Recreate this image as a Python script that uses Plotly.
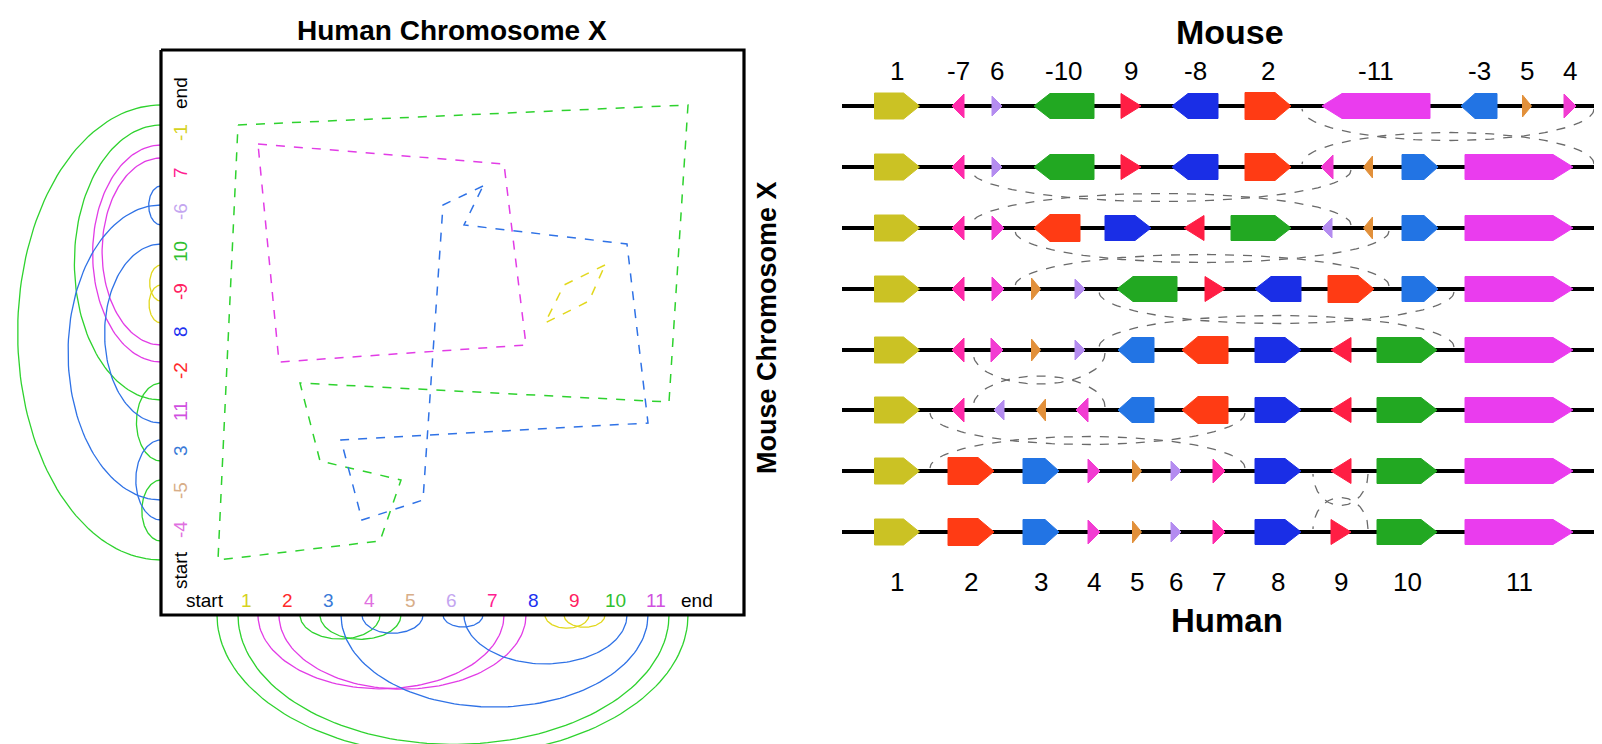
import numpy as np
import plotly.graph_objects as go

W, H = 1602, 744
FONT = "Liberation Sans, Arial, Helvetica, sans-serif"

# ---------------- left panel data ----------------
human_labels = ["start", "1", "2", "3", "4", "5", "6", "7", "8", "9", "10", "11", "end"]
human_label_x = [197, 238, 279, 320, 361, 402, 443, 484, 525, 566, 607, 648, 689]
mouse_labels = ["start", "-4", "-5", "3", "11", "-2", "8", "-9", "10", "-6", "7", "-1", "end"]
mouse_label_y = [562, 522, 483, 443, 403, 363, 324, 284, 244, 204, 165, 125, 85]

# breakpoint-graph cycles inside the box (vertex positions)
cycle_names = ["green", "magenta", "blue", "yellow"]
cycle_green_x = [230, 680, 661, 292, 312, 393, 372, 210]
cycle_green_y = [117, 97, 394, 375, 453, 472, 533, 552]
cycle_magenta_x = [250, 496, 518, 271]
cycle_magenta_y = [136, 156, 337, 354]
cycle_blue_x = [475, 435, 415, 354, 333, 640, 619, 456]
cycle_blue_y = [178, 197, 492, 512, 432, 415, 236, 217]
cycle_yellow_x = [597, 556, 537, 581]
cycle_yellow_y = [257, 277, 315, 293]

# arcs below the box (human adjacencies): endpoints on the bottom edge
bottom_arc_x1 = [209, 230, 292, 312, 250, 271, 333, 354, 435, 456, 537, 556]
bottom_arc_x2 = [680, 661, 372, 393, 496, 518, 640, 415, 475, 619, 581, 597]
bottom_arc_cycle = ["green", "green", "green", "green", "magenta", "magenta",
                    "blue", "blue", "blue", "blue", "yellow", "yellow"]
# arcs left of the box (mouse adjacencies): endpoints on the left edge
left_arc_y1 = [97, 117, 375, 472, 137, 150, 178, 197, 236, 432, 257, 277]
left_arc_y2 = [552, 392, 453, 533, 354, 337, 217, 492, 415, 512, 293, 315]
left_arc_cycle = ["green", "green", "green", "green", "magenta", "magenta",
                  "blue", "blue", "blue", "blue", "yellow", "yellow"]

# ---------------- right panel data ----------------
mouse_top_labels = ["1", "-7", "6", "-10", "9", "-8", "2", "-11", "-3", "5", "4"]
human_bottom_labels = ["1", "2", "3", "4", "5", "6", "7", "8", "9", "10", "11"]
row_y = [98, 159, 220, 281, 342, 402, 463, 524]
rows = [
    [1, -7, 6, -10, 9, -8, 2, -11, -3, 5, 4],
    [1, -7, 6, -10, 9, -8, 2, -4, -5, 3, 11],
    [1, -7, 4, -2, 8, -9, 10, -6, -5, 3, 11],
    [1, -7, 4, 5, 6, -10, 9, -8, 2, 3, 11],
    [1, -7, 4, 5, 6, -3, -2, 8, -9, 10, 11],
    [1, -7, -6, -5, -4, -3, -2, 8, -9, 10, 11],
    [1, 2, 3, 4, 5, 6, 7, 8, -9, 10, 11],
    [1, 2, 3, 4, 5, 6, 7, 8, 9, 10, 11],
]
row_x = [
    [889, 950, 989, 1056, 1123, 1187, 1260, 1368, 1471, 1519, 1562],
    [889, 950, 989, 1056, 1123, 1187, 1260, 1319, 1360, 1412, 1511],
    [889, 950, 990, 1049, 1120, 1186, 1253, 1319, 1360, 1412, 1511],
    [889, 950, 990, 1028, 1072, 1139, 1207, 1270, 1343, 1412, 1511],
    [889, 950, 989, 1028, 1072, 1128, 1197, 1270, 1333, 1399, 1511],
    [889, 950, 991, 1033, 1074, 1128, 1197, 1270, 1333, 1399, 1511],
    [889, 963, 1033, 1086, 1129, 1168, 1211, 1270, 1333, 1399, 1511],
    [889, 963, 1033, 1086, 1129, 1168, 1211, 1270, 1333, 1399, 1511],
]
reversal_left = [1294, 963, 1007, 1091, 965, 922, 1305]
reversal_right = [1586, 1343, 1381, 1446, 1097, 1237, 1360]

# ---------------- styles ----------------
gene_color = {1: "#cbc224", 2: "#ff3b14", 3: "#2274e4", 4: "#f23cd2", 5: "#e2903a",
              6: "#b48cf0", 7: "#ff2aaa", 8: "#1a2ee6", 9: "#ff1e44", 10: "#22a822",
              11: "#ea3cee"}
label_color = {1: "#d6d21e", 2: "#ff2a2a", 3: "#3a7ad8", 4: "#e070e0", 5: "#d8ae88",
               6: "#c4a6f0", 7: "#ff2090", 8: "#2030f0", 9: "#ff2060", 10: "#30c030",
               11: "#d050e0"}
cycle_color = {"green": "#2ed22e", "magenta": "#e23ce6", "blue": "#2f72e6", "yellow": "#e2d81e"}
gene_size = {1: (45, 26, 16), 2: (46, 27, 16), 3: (36, 25, 14), 4: (12, 24, 12),
             5: (9, 22, 9), 6: (10, 20, 10), 7: (12, 24, 12), 8: (46, 25, 16),
             9: (20, 25, 20), 10: (60, 25, 16), 11: (108, 25, 20)}

BOX_L, BOX_R, BOX_T, BOX_B = 153, 736, 42, 607
K_BOTTOM, K_LEFT = 0.6, 0.63

fig = go.Figure()
t = np.linspace(0, np.pi, 90)

cycles = {
    "green": (cycle_green_x, cycle_green_y),
    "magenta": (cycle_magenta_x, cycle_magenta_y),
    "blue": (cycle_blue_x, cycle_blue_y),
    "yellow": (cycle_yellow_x, cycle_yellow_y),
}

# arcs outside the box
for x1, x2, c in zip(bottom_arc_x1, bottom_arc_x2, bottom_arc_cycle):
    cx, hw = (x1 + x2) / 2, abs(x2 - x1) / 2
    fig.add_trace(go.Scatter(x=cx + hw * np.cos(t), y=BOX_B + K_BOTTOM * hw * np.sin(t),
                             mode="lines", line=dict(color=cycle_color[c], width=1.3),
                             hoverinfo="skip", showlegend=False))
for y1, y2, c in zip(left_arc_y1, left_arc_y2, left_arc_cycle):
    cy, hh = (y1 + y2) / 2, abs(y2 - y1) / 2
    fig.add_trace(go.Scatter(x=BOX_L - K_LEFT * hh * np.sin(t), y=cy + hh * np.cos(t),
                             mode="lines", line=dict(color=cycle_color[c], width=1.3),
                             hoverinfo="skip", showlegend=False))

# box
fig.add_trace(go.Scatter(x=[BOX_L, BOX_R, BOX_R, BOX_L, BOX_L],
                         y=[BOX_T, BOX_T, BOX_B, BOX_B, BOX_T],
                         mode="lines", fill="toself", fillcolor="white",
                         line=dict(color="black", width=3.2),
                         hoverinfo="skip", showlegend=False))

# cycles inside the box
for name in cycle_names:
    xs, ys = cycles[name]
    fig.add_trace(go.Scatter(x=list(xs) + [xs[0]], y=list(ys) + [ys[0]], mode="lines",
                             line=dict(color=cycle_color[name], width=1.5, dash="dash"),
                             hoverinfo="skip", showlegend=False))

# ---------------- right panel ----------------
for r in range(len(reversal_left)):
    xl, xr = reversal_left[r], reversal_right[r]
    cx, hw = (xl + xr) / 2, (xr - xl) / 2
    y1, y2 = row_y[r], row_y[r + 1]
    mid = (y1 + y2) / 2
    fig.add_trace(go.Scatter(x=cx + hw * np.cos(t), y=(y1 + 3) + (mid + 4 - y1 - 3) * np.sin(t),
                             mode="lines", line=dict(color="#6a6a6a", width=1.3, dash="dash"),
                             hoverinfo="skip", showlegend=False))
    fig.add_trace(go.Scatter(x=cx + hw * np.cos(t), y=(y2 - 3) - (y2 - 3 - (mid - 4)) * np.sin(t),
                             mode="lines", line=dict(color="#6a6a6a", width=1.3, dash="dash"),
                             hoverinfo="skip", showlegend=False))

for y in row_y:
    fig.add_trace(go.Scatter(x=[834, 1602], y=[y, y], mode="lines",
                             line=dict(color="black", width=4),
                             hoverinfo="skip", showlegend=False))

for r, genes in enumerate(rows):
    y = row_y[r]
    for g, cx in zip(genes, row_x[r]):
        a = abs(g)
        w, h, tip = gene_size[a]
        d = 1 if g > 0 else -1
        back = cx - d * w / 2
        front = cx + d * w / 2
        neck = front - d * tip
        px = [back, neck, front, neck, back, back]
        py = [y - h / 2, y - h / 2, y, y + h / 2, y + h / 2, y - h / 2]
        fig.add_trace(go.Scatter(x=px, y=py, mode="lines", fill="toself",
                                 fillcolor=gene_color[a],
                                 line=dict(color=gene_color[a], width=1),
                                 hoverinfo="skip", showlegend=False))

annotations = []
for lab, x in zip(human_labels, human_label_x):
    col = "black" if lab in ("start", "end") else label_color[abs(int(lab))]
    annotations.append(dict(x=x, y=592, text=lab, showarrow=False,
                            font=dict(family=FONT, size=19, color=col),
                            xanchor="center", yanchor="middle"))
for lab, y in zip(mouse_labels, mouse_label_y):
    col = "black" if lab in ("start", "end") else label_color[abs(int(lab))]
    annotations.append(dict(x=172, y=y, text=lab, showarrow=False, textangle=-90,
                            font=dict(family=FONT, size=19, color=col),
                            xanchor="center", yanchor="middle"))
annotations.append(dict(x=444, y=22, text="<b>Human Chromosome X</b>", showarrow=False,
                        font=dict(family=FONT, size=28, color="black"),
                        xanchor="center", yanchor="middle"))
annotations.append(dict(x=759, y=320, text="<b>Mouse Chromosome X</b>", showarrow=False,
                        textangle=-90, font=dict(family=FONT, size=27, color="black"),
                        xanchor="center", yanchor="middle"))
annotations.append(dict(x=1222, y=24, text="<b>Mouse</b>", showarrow=False,
                        font=dict(family=FONT, size=34, color="black"),
                        xanchor="center", yanchor="middle"))
annotations.append(dict(x=1219, y=612, text="<b>Human</b>", showarrow=False,
                        font=dict(family=FONT, size=33, color="black"),
                        xanchor="center", yanchor="middle"))
for lab, x in zip(mouse_top_labels, row_x[0]):
    annotations.append(dict(x=x, y=63, text=lab, showarrow=False,
                            font=dict(family=FONT, size=26, color="black"),
                            xanchor="center", yanchor="middle"))
for lab, x in zip(human_bottom_labels, row_x[-1]):
    annotations.append(dict(x=x, y=574, text=lab, showarrow=False,
                            font=dict(family=FONT, size=26, color="black"),
                            xanchor="center", yanchor="middle"))

fig.update_layout(
    width=W, height=H,
    margin=dict(l=0, r=0, t=0, b=0),
    paper_bgcolor="white", plot_bgcolor="white",
    xaxis=dict(range=[0, W], visible=False, fixedrange=True),
    yaxis=dict(range=[H, 0], visible=False, fixedrange=True),
    annotations=annotations,
    showlegend=False,
)

fig.write_html("out.html")
